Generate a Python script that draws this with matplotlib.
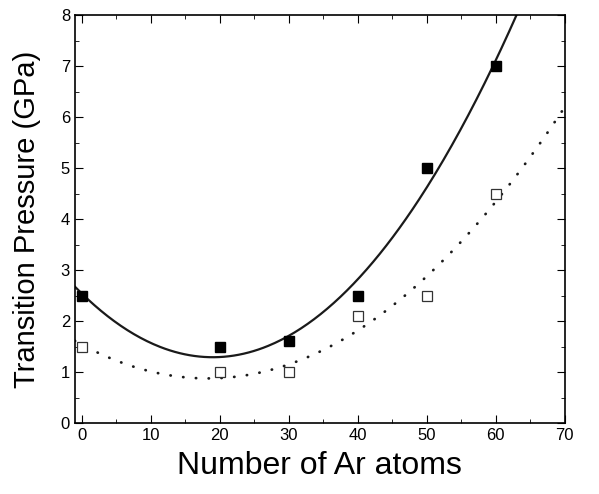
import numpy as np
import matplotlib
matplotlib.use("Agg")
import matplotlib.pyplot as plt
from matplotlib.ticker import MultipleLocator

plt.rcParams['font.family'] = ['Liberation Sans', 'DejaVu Sans']

# data
n_ar = [0, 20, 30, 40, 50, 60]
p_filled = [2.5, 1.5, 1.6, 2.5, 5.0, 7.0]
p_open = [1.5, 1.0, 1.0, 2.1, 2.5, 4.5]

# quadratic fits through each set
fit_filled = np.polyfit(n_ar, p_filled, 2)
fit_open = np.polyfit(n_ar, p_open, 2)
xs = np.linspace(-1, 70, 300)

fig = plt.figure(figsize=(5.99, 4.94), dpi=100)
ax = fig.add_axes([0.125, 0.1437, 0.818, 0.8259])

ax.plot(xs, np.polyval(fit_filled, xs), color='#1a1a1a', lw=1.6)
ax.plot(xs, np.polyval(fit_open, xs), color='#1a1a1a', lw=2.0,
        linestyle=(0, (0.1, 4.5)), dash_capstyle='round')
ax.plot(n_ar, p_filled, 's', color='black', ms=7)
ax.plot(n_ar, p_open, 's', mfc='white', mec='#333333', mew=0.9, ms=7)

ax.set_xlim(-1, 70)
ax.set_ylim(0, 8)
ax.xaxis.set_major_locator(MultipleLocator(10))
ax.xaxis.set_minor_locator(MultipleLocator(5))
ax.yaxis.set_major_locator(MultipleLocator(1))
ax.yaxis.set_minor_locator(MultipleLocator(0.5))
ax.tick_params(which='both', direction='in', top=True, right=True, labelsize=12)
ax.tick_params(which='major', length=6)
ax.tick_params(which='minor', length=3)
for s in ax.spines.values():
    s.set_linewidth(1.2)

ax.set_xlabel("Number of Ar atoms", fontsize=23, labelpad=6)
ax.set_ylabel("Transition Pressure (GPa)", fontsize=21, labelpad=14)

fig.savefig("out.png", dpi=100)
